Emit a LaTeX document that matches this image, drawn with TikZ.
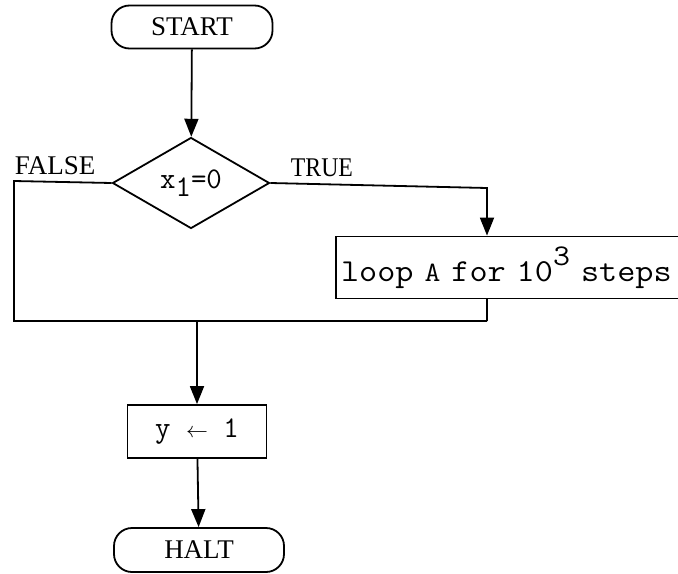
\documentclass[tikz,border=0pt]{standalone}
\usepackage{fontspec}
\setmainfont{Liberation Serif}
\usetikzlibrary{shapes.geometric,arrows.meta}
\begin{document}
\begin{tikzpicture}[x=0.5pt,y=-0.5pt,
  line width=0.9pt,
  every node/.style={font=\fontsize{13.5}{15}\selectfont},
  term/.style={draw,rounded corners=9pt,minimum width=80.5pt,minimum height=21.5pt,inner sep=0pt},
  proc/.style={draw,minimum height=31pt,inner sep=0pt,font=\fontsize{15}{17}\selectfont\ttfamily},
  test/.style={draw,diamond,minimum width=78.5pt,minimum height=45.5pt,inner sep=0pt,aspect=1.7,font=\fontsize{15}{17}\selectfont\ttfamily},
  lbl/.style={inner sep=0pt,anchor=base west},
  arr/.style={-{Triangle[length=9pt,width=7pt]}}]
\clip (0,0) rectangle (678,573);
\useasboundingbox (0,0) rectangle (678,573);
% nodes
\node[term] (start) at (192,27) {START};
\node[test] (dec) at (191,183) {x\raisebox{-0.6ex}{1}=0};
\node[proc,minimum width=181pt,text width=178pt,align=left,inner xsep=2.5pt] (loop) at (519,267.5)
  {\scalebox{1.1}[1]{\fontsize{16}{18}\selectfont loop {\fontsize{14}{15}\selectfont A} for 10\raisebox{1.2ex}{\fontsize{15}{15}\selectfont 3} steps}};
\node[proc,minimum width=69.5pt,minimum height=26.5pt] (ybox) at (197,431.5) {y {\fontsize{11}{13}\selectfont$\leftarrow$} 1};
\node[term,minimum width=85pt,minimum height=22pt] (halt) at (199,550) {HALT};
% branch points
\coordinate (fl) at (14,181);
\coordinate (mg) at (14,321);
\coordinate (tr) at (487,188);
\coordinate (lb) at (487,321);
\coordinate (mj) at (197,321);
% labels
\node[lbl] (flab) at (14,174) {FALSE};
\node[lbl] (tlab) at (290,176) {\scalebox{0.88}[1]{TRUE}};
% connectors
\draw[arr] (start) -- (dec);
\draw (dec.west) -- (fl) -- (mg) -- (lb);
\draw[arr] (dec.east) -- (tr) -- (tr |- loop.north);
\draw (tr |- loop.south) -- (lb);
\draw[arr] (mj) -- (ybox);
\draw[arr] (ybox) -- (halt);
\end{tikzpicture}
\end{document}
